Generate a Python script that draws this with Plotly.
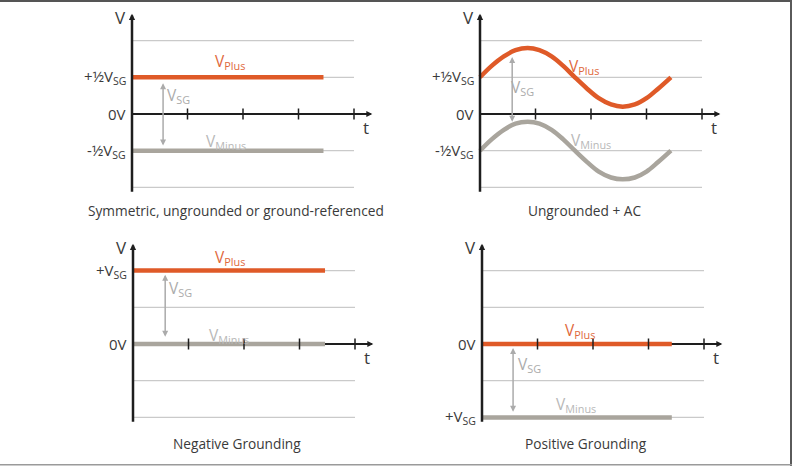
import plotly.graph_objects as go

# ---------------- data ----------------
tick_positions = [1, 2, 3, 4]
grid_levels = [-2, -1, 1, 2]

sym_t = [0, 3.45]
sym_plus = [1, 1]
sym_minus = [-1, -1]

ac_t = [0, 0.21, 0.43, 0.64, 0.86, 1.07, 1.29, 1.5, 1.71, 1.93, 2.14, 2.36, 2.57, 2.79, 3.0, 3.21, 3.44]
ac_plus = [1.0, 1.31, 1.57, 1.74, 1.8, 1.74, 1.57, 1.31, 1.0, 0.69, 0.43, 0.26, 0.2, 0.26, 0.43, 0.69, 1.0]
ac_minus = [-1.0, -0.69, -0.43, -0.26, -0.21, -0.26, -0.43, -0.69, -1.0, -1.31, -1.57, -1.73, -1.78, -1.73, -1.57, -1.31, -1.0]

neg_t = [0, 3.46]
neg_plus = [2, 2]
neg_minus = [0, 0]

pos_t = [0, 3.42]
pos_plus = [0, 0]
pos_minus = [-2, -2]

titles = ["Symmetric, ungrounded or ground-referenced", "Ungrounded + AC",
          "Negative Grounding", "Positive Grounding"]
ticklabels = [
    {1: "+½V<sub>SG</sub>", 0: "0V", -1: "-½V<sub>SG</sub>"},
    {1: "+½V<sub>SG</sub>", 0: "0V", -1: "-½V<sub>SG</sub>"},
    {2: "+V<sub>SG</sub>", 0: "0V"},
    {0: "0V", -2: "+V<sub>SG</sub>"},
]
vsg_spans = [(0.56, 0.84, -0.9), (0.58, 1.55, -0.25), (0.58, 1.89, 0.16), (0.56, -0.11, -1.89)]
plus_label_pos = [(1.77, 1.42), (1.87, 1.3), (1.75, 2.36), (1.77, 0.36)]
minus_label_pos = [(1.69, -0.74), (2.0, -0.72), (1.73, 0.24), (1.69, -1.65)]
vsg_label_pos = [(0.83, 0.5), (0.77, 0.72), (0.85, 1.5), (0.85, -0.57)]

series = [
    (sym_t, sym_plus, sym_minus, "linear"),
    (ac_t, ac_plus, ac_minus, "spline"),
    (neg_t, neg_plus, neg_minus, "linear"),
    (pos_t, pos_plus, pos_minus, "linear"),
]

# ---------------- geometry / style ----------------
W, H = 796, 466
UX, UY = 55.5, 36.7
origins = [(132, 114), (480, 114), (133, 344), (482, 344)]
XR = (-0.3, 4.6)
YR = (-2.9, 2.9)

ORANGE = "#DF5A28"
GRAYLINE = "#A9A59D"
GRID = "#CACACA"
AXIS = "#1E1E1E"
ARROWGRAY = "#ABABAB"
TEXT = "#3A3A3A"
FONT = "'Open Sans', Lato, sans-serif"

fig = go.Figure()
layout_axes = {}
annotations = []

for i, (ox, oy) in enumerate(origins):
    sfx = "" if i == 0 else str(i + 1)
    xa, ya = "x" + sfx, "y" + sfx
    x0 = (ox + XR[0] * UX) / W
    x1 = (ox + XR[1] * UX) / W
    ytop = oy - YR[1] * UY
    ybot = oy - YR[0] * UY
    layout_axes["xaxis" + sfx] = dict(domain=[x0, x1], range=list(XR), visible=False,
                                      anchor=ya, fixedrange=True)
    layout_axes["yaxis" + sfx] = dict(domain=[1 - ybot / H, 1 - ytop / H], range=list(YR),
                                      visible=False, anchor=xa, fixedrange=True)

    # grid lines
    for g in grid_levels:
        fig.add_trace(go.Scatter(x=[0, 4.0], y=[g, g], mode="lines",
                                 line=dict(color=GRID, width=1.2),
                                 xaxis=xa, yaxis=ya, showlegend=False, hoverinfo="skip"))
    # x axis line
    fig.add_trace(go.Scatter(x=[0, 4.2], y=[0, 0], mode="lines",
                             line=dict(color=AXIS, width=2),
                             xaxis=xa, yaxis=ya, showlegend=False, hoverinfo="skip"))
    t, vp, vm, shape = series[i]
    fig.add_trace(go.Scatter(x=t, y=vm, mode="lines",
                             line=dict(color=GRAYLINE, width=4.5, shape=shape, smoothing=1.0),
                             xaxis=xa, yaxis=ya, showlegend=False, hoverinfo="skip"))
    fig.add_trace(go.Scatter(x=t, y=vp, mode="lines",
                             line=dict(color=ORANGE, width=4.5, shape=shape, smoothing=1.0),
                             xaxis=xa, yaxis=ya, showlegend=False, hoverinfo="skip"))
    # ticks
    fig.add_trace(go.Scatter(x=tick_positions, y=[0] * len(tick_positions), mode="markers",
                             marker=dict(symbol="line-ns", size=8,
                                         line=dict(color=AXIS, width=1.5)),
                             xaxis=xa, yaxis=ya, showlegend=False, hoverinfo="skip"))

    # x axis arrow head
    annotations.append(dict(x=4.33, y=0, ax=3.9, ay=0, xref=xa, yref=ya, axref=xa, ayref=ya,
                            text="", showarrow=True, arrowhead=2, arrowsize=0.6,
                            arrowwidth=2, arrowcolor=AXIS, standoff=0))
    # y axis with arrow
    annotations.append(dict(x=0, y=2.73, ax=0, ay=-2.16, xref=xa, yref=ya, axref=xa, ayref=ya,
                            text="", showarrow=True, arrowhead=2, arrowsize=0.5,
                            arrowwidth=2.5, arrowcolor=AXIS, standoff=0))
    # V_SG double arrow
    vx, vtop, vbot = vsg_spans[i]
    annotations.append(dict(x=vx, y=vtop, ax=vx, ay=vbot, xref=xa, yref=ya, axref=xa, ayref=ya,
                            text="", showarrow=True, arrowhead=2, arrowside="end+start",
                            arrowsize=0.8, arrowwidth=1.5, arrowcolor=ARROWGRAY,
                            standoff=0, startstandoff=0))
    # axis labels
    annotations.append(dict(x=-0.2, y=2.62, xref=xa, yref=ya, text="V", showarrow=False,
                            font=dict(family=FONT, size=17, color=TEXT)))
    annotations.append(dict(x=4.21, y=-0.38, xref=xa, yref=ya, text="t", showarrow=False,
                            font=dict(family=FONT, size=17, color=TEXT)))
    # tick labels on V axis
    for lvl, txt in ticklabels[i].items():
        annotations.append(dict(x=-0.08, y=lvl, xref=xa, yref=ya, text=txt, showarrow=False,
                                xanchor="right", yanchor="middle",
                                font=dict(family=FONT, size=15, color=TEXT)))
    # series labels
    px_, py_ = plus_label_pos[i]
    annotations.append(dict(x=px_, y=py_, xref=xa, yref=ya, text="V<sub>Plus</sub>",
                            showarrow=False, font=dict(family=FONT, size=15.5, color="#E0683C")))
    mx_, my_ = minus_label_pos[i]
    annotations.append(dict(x=mx_, y=my_, xref=xa, yref=ya, text="V<sub>Minus</sub>",
                            showarrow=False, font=dict(family=FONT, size=15.5, color="#B8B8B8")))
    sx_, sy_ = vsg_label_pos[i]
    annotations.append(dict(x=sx_, y=sy_, xref=xa, yref=ya, text="V<sub>SG</sub>",
                            showarrow=False, font=dict(family=FONT, size=15.5, color="#ABABAB")))
    # panel title
    annotations.append(dict(x=1.88, y=-2.64 if i < 2 else -2.70, xref=xa, yref=ya,
                            text=titles[i], showarrow=False,
                            font=dict(family=FONT, size=13.7, color=TEXT)))

shapes = [
    dict(type="line", xref="paper", yref="paper", x0=0, x1=792 / W, y0=1 - 1 / H, y1=1 - 1 / H,
         line=dict(color="#555555", width=2)),
    dict(type="line", xref="paper", yref="paper", x0=791 / W, x1=791 / W, y0=0, y1=1,
         line=dict(color="#5A5A5A", width=2)),
    dict(type="line", xref="paper", yref="paper", x0=0, x1=792 / W, y0=1.2 / H, y1=1.2 / H,
         line=dict(color="#9A9A9A", width=1.5)),
]

fig.update_layout(width=W, height=H, margin=dict(l=0, r=0, t=0, b=0),
                  paper_bgcolor="white", plot_bgcolor="white",
                  annotations=annotations, shapes=shapes, **layout_axes)

fig.write_html("out.html", config={"displayModeBar": False})
